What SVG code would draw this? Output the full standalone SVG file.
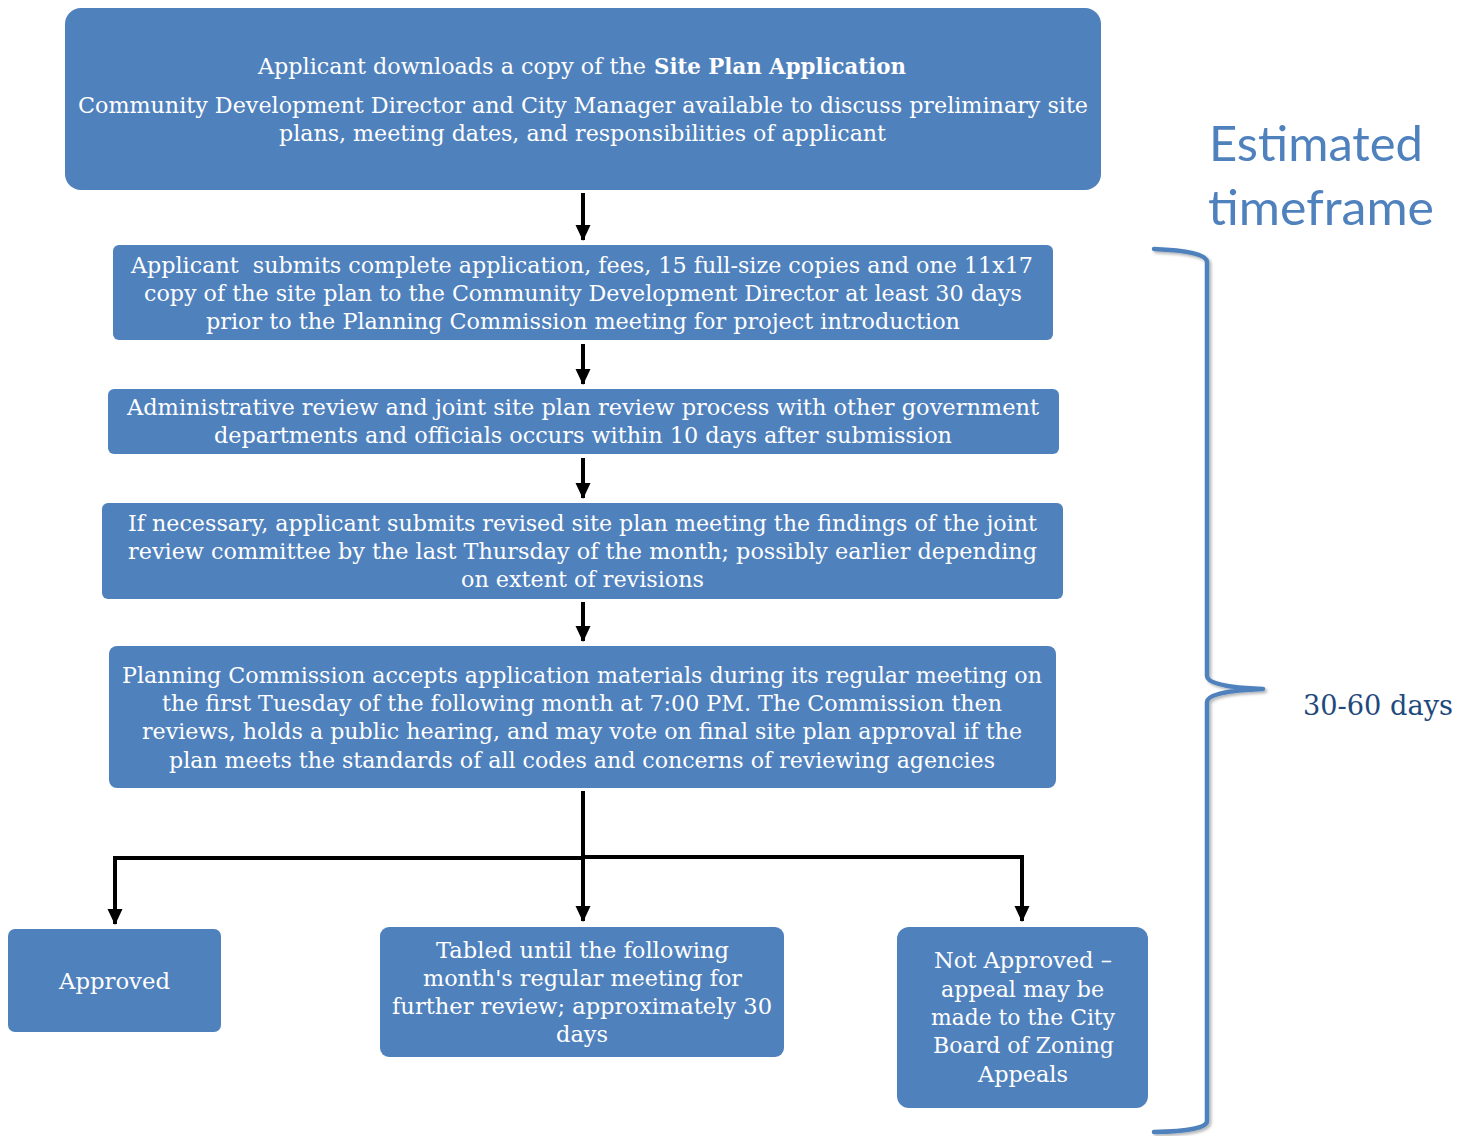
<svg xmlns="http://www.w3.org/2000/svg" width="1468" height="1136" viewBox="0 0 1468 1136">
<style>
.box{fill:#4f81bd;}
.t{font-family:"DejaVu Serif","Liberation Serif",serif;font-size:23px;fill:#ffffff;}
.b{font-weight:bold;}
.c{fill:none;stroke:#000;stroke-width:4;}
.title{font-family:Lato,"Open Sans","Liberation Sans",sans-serif;font-size:48px;fill:#4f81bd;}
.days{font-family:"DejaVu Serif","Liberation Serif",serif;font-size:28px;fill:#1f497d;}
.brace{fill:none;stroke:#4f81bd;stroke-width:4.5;stroke-linecap:round;stroke-linejoin:round;}
</style>
<defs>
<marker id="ah" markerUnits="userSpaceOnUse" markerWidth="18" markerHeight="18" viewBox="0 0 18 18" refX="15" refY="9" orient="auto">
<path d="M0,1.5 L16,9 L0,16.5 Z" fill="#000"/>
</marker>
<filter id="sh" x="-20%" y="-20%" width="140%" height="140%">
<feDropShadow dx="2" dy="2" stdDeviation="1.5" flood-color="#000" flood-opacity="0.3"/>
</filter>
</defs>

<g id="n1">
<rect class="box" x="65" y="8" width="1036" height="182" rx="16"/>
<text class="t" x="258" y="74" textLength="388" lengthAdjust="spacingAndGlyphs">Applicant downloads a copy of the</text>
<text class="t b" x="654" y="74" textLength="252" lengthAdjust="spacingAndGlyphs">Site Plan Application</text>
<text class="t" x="78" y="113" textLength="1010" lengthAdjust="spacingAndGlyphs">Community Development Director and City Manager available to discuss preliminary site</text>
<text class="t" x="279" y="141" textLength="607" lengthAdjust="spacingAndGlyphs">plans, meeting dates, and responsibilities of applicant</text>
</g>

<g id="n2">
<rect class="box" x="113" y="245" width="940" height="95" rx="6"/>
<text class="t" x="131" y="273" textLength="902" lengthAdjust="spacingAndGlyphs" xml:space="preserve">Applicant  submits complete application, fees, 15 full-size copies and one 11x17</text>
<text class="t" x="144" y="301" textLength="878" lengthAdjust="spacingAndGlyphs">copy of the site plan to the Community Development Director at least 30 days</text>
<text class="t" x="206" y="329" textLength="754" lengthAdjust="spacingAndGlyphs">prior to the Planning Commission meeting for project introduction</text>
</g>

<g id="n3">
<rect class="box" x="108" y="389" width="951" height="65" rx="6"/>
<text class="t" x="127" y="415" textLength="912" lengthAdjust="spacingAndGlyphs">Administrative review and joint site plan review process with other government</text>
<text class="t" x="214" y="443" textLength="738" lengthAdjust="spacingAndGlyphs">departments and officials occurs within 10 days after submission</text>
</g>

<g id="n4">
<rect class="box" x="102" y="503" width="961" height="96" rx="6"/>
<text class="t" x="128" y="531" textLength="909" lengthAdjust="spacingAndGlyphs">If necessary, applicant submits revised site plan meeting the findings of the joint</text>
<text class="t" x="128" y="559" textLength="909" lengthAdjust="spacingAndGlyphs">review committee by the last Thursday of the month; possibly earlier depending</text>
<text class="t" x="461" y="587" textLength="243" lengthAdjust="spacingAndGlyphs">on extent of revisions</text>
</g>

<g id="n5">
<rect class="box" x="109" y="646" width="947" height="142" rx="8"/>
<text class="t" x="122" y="683" textLength="920" lengthAdjust="spacingAndGlyphs">Planning Commission accepts application materials during its regular meeting on</text>
<text class="t" x="162" y="711" textLength="840" lengthAdjust="spacingAndGlyphs">the first Tuesday of the following month at 7:00 PM. The Commission then</text>
<text class="t" x="142" y="739" textLength="880" lengthAdjust="spacingAndGlyphs">reviews, holds a public hearing, and may vote on final site plan approval if the</text>
<text class="t" x="169" y="768" textLength="826" lengthAdjust="spacingAndGlyphs">plan meets the standards of all codes and concerns of reviewing agencies</text>
</g>

<g id="n6">
<rect class="box" x="8" y="929" width="213" height="103" rx="7"/>
<text class="t" x="59" y="989" textLength="111" lengthAdjust="spacingAndGlyphs">Approved</text>
</g>

<g id="n7">
<rect class="box" x="380" y="927" width="404" height="130" rx="9"/>
<text class="t" x="436" y="958" textLength="293" lengthAdjust="spacingAndGlyphs">Tabled until the following</text>
<text class="t" x="423" y="986" textLength="319" lengthAdjust="spacingAndGlyphs">month's regular meeting for</text>
<text class="t" x="392" y="1014" textLength="380" lengthAdjust="spacingAndGlyphs">further review; approximately 30</text>
<text class="t" x="556" y="1042" textLength="52" lengthAdjust="spacingAndGlyphs">days</text>
</g>

<g id="n8">
<rect class="box" x="897" y="927" width="251" height="181" rx="12"/>
<text class="t" x="934" y="968" textLength="178" lengthAdjust="spacingAndGlyphs">Not Approved –</text>
<text class="t" x="941" y="997" textLength="163" lengthAdjust="spacingAndGlyphs">appeal may be</text>
<text class="t" x="931" y="1025" textLength="184" lengthAdjust="spacingAndGlyphs">made to the City</text>
<text class="t" x="933" y="1053" textLength="181" lengthAdjust="spacingAndGlyphs">Board of Zoning</text>
<text class="t" x="978" y="1082" textLength="90" lengthAdjust="spacingAndGlyphs">Appeals</text>
</g>

<g id="timeframe">
<text class="title" x="1209" y="161" textLength="214" lengthAdjust="spacingAndGlyphs">Estimated</text>
<text class="title" x="1208" y="225" textLength="226" lengthAdjust="spacingAndGlyphs">timeframe</text>
<path class="brace" filter="url(#sh)" d="M1154,249 Q1207,251 1207,262 L1207,676 Q1207,687 1263,689 Q1207,691 1207,702 L1207,1121 Q1207,1131 1154,1132"/>
<text class="days" x="1303" y="715" textLength="150" lengthAdjust="spacingAndGlyphs">30-60 days</text>
</g>

<g id="connectors">
<line class="c" x1="583" y1="193" x2="583" y2="240" marker-end="url(#ah)"/>
<line class="c" x1="583" y1="344" x2="583" y2="384" marker-end="url(#ah)"/>
<line class="c" x1="583" y1="458" x2="583" y2="498" marker-end="url(#ah)"/>
<line class="c" x1="583" y1="602" x2="583" y2="641" marker-end="url(#ah)"/>
<line class="c" x1="583" y1="791" x2="583" y2="921" marker-end="url(#ah)"/>
<path class="c" d="M583,858 L115,858 L115,924" marker-end="url(#ah)"/>
<path class="c" d="M583,857 L1022,857 L1022,921" marker-end="url(#ah)"/>
<line class="c" filter="url(#sh)" x1="380" y1="1001" x2="222" y2="1001" marker-end="url(#ah)"/>
<line class="c" filter="url(#sh)" x1="785" y1="1007" x2="898" y2="1007" marker-end="url(#ah)"/>
</g>
</svg>
